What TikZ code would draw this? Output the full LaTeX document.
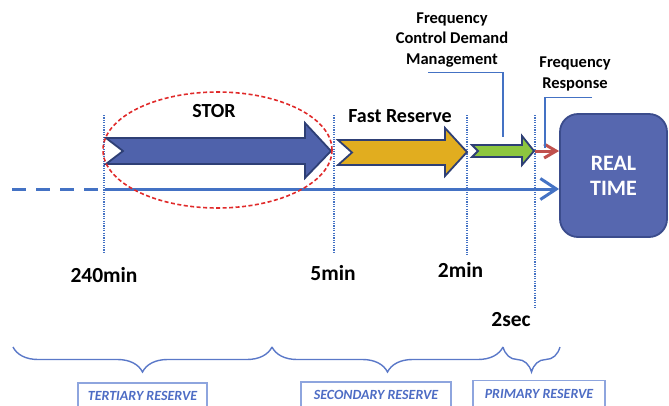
\documentclass[tikz,border=0pt]{standalone}
\usepackage{fontspec}
\setmainfont{Carlito}
\usepackage{tikz}
\usetikzlibrary{shapes.geometric, arrows.meta}
\usetikzlibrary{decorations.pathreplacing}
\definecolor{lineblue}{HTML}{4472C4}
\definecolor{storblue}{HTML}{4F62AB}
\definecolor{fastgold}{HTML}{E1AD1F}
\definecolor{fcdmgreen}{HTML}{8DC63F}
\definecolor{outlinenavy}{HTML}{2E3F75}
\definecolor{frred}{HTML}{C0504D}
\definecolor{rtfill}{HTML}{5667AF}
\definecolor{rtborder}{HTML}{3B4C8C}
\definecolor{ringred}{HTML}{E02A2A}
\definecolor{braceblue}{HTML}{5A78C8}
\definecolor{boxblue}{HTML}{8EA5DE}
\definecolor{textblue}{HTML}{4D6CC4}
\tikzstyle{blockarrow} = [draw=outlinenavy, line width=1.8pt, line join=miter]
\tikzstyle{timeline} = [draw=lineblue, line width=3pt]
\tikzstyle{timetick} = [draw=lineblue, line width=1.4pt, dash pattern=on 1.2pt off 1.2pt]
\tikzstyle{callout} = [draw=lineblue, line width=1.1pt]
\tikzstyle{bracket} = [draw=braceblue, line width=1.4pt, decorate, decoration={brace, mirror, amplitude=25pt}]
\tikzstyle{reservebox} = [draw=boxblue, line width=1.3pt, text=textblue, font=\fontsize{14}{16}\selectfont\bfseries\itshape, minimum height=26pt, inner sep=0pt]
\tikzstyle{timelabel} = [font=\fontsize{21.5}{25}\selectfont\bfseries, anchor=base, inner sep=0pt]
\tikzstyle{biglabel} = [font=\fontsize{20}{23}\selectfont\bfseries, anchor=base, inner sep=0pt]
\tikzstyle{smalllabel} = [font=\fontsize{16.5}{20.5}\selectfont\bfseries, align=center, inner sep=0pt]
\tikzstyle{realtime} = [draw=rtborder, fill=rtfill, line width=1.8pt, rounded corners=18pt, text=white, font=\fontsize{22}{25}\selectfont\bfseries, align=center, minimum width=107pt, minimum height=123pt]

\begin{document}
\begin{tikzpicture}[x=1pt, y=-1pt]
\useasboundingbox (0,0) rectangle (669,405);
\clip (0,0) rectangle (669,405);

%% time ticks
\foreach \tx/\ty in {104/254, 334/252, 467/255, 535/308}
    \draw[timetick] (\tx,115) -- (\tx,\ty);

%% real time
\node[realtime] (realtime) at (613.5,175.5) {REAL\\TIME};

%% timeline
\coordinate (lineStart) at (12,189);
\coordinate (lineMid) at (105,189);
\draw[timeline, dash pattern=on 14pt off 10pt] (lineStart) -- (lineMid);
\draw[timeline, -{Straight Barb[length=16pt, width=21pt]}] (lineMid) -- (realtime.west |- lineMid);

%% block arrows
\draw[blockarrow, fill=storblue] (106,138) -- (305,138) -- (305,123) -- (331,151) -- (305,178)
    -- (305,164) -- (106,164) -- (123,151) -- cycle;
\draw[blockarrow, fill=fastgold] (338,140) -- (445,140) -- (445,128) -- (467,152) -- (445,176)
    -- (445,165) -- (338,165) -- (352,152.5) -- cycle;
\draw[blockarrow, fill=fcdmgreen] (472,145) -- (522,145) -- (522,136) -- (534,151) -- (522,165)
    -- (522,157) -- (472,157) -- (478,151) -- cycle;
\coordinate (frStart) at (535,151);
\draw[draw=frred, line width=3pt, -{Straight Barb[length=12pt, width=14pt]}] (frStart) -- (realtime.west |- frStart);

%% STOR ring
\node[draw=ringred, line width=1.6pt, dash pattern=on 4pt off 2.5pt, ellipse, minimum width=229pt, minimum height=116pt] (storring) at (217.5,150) {};

%% labels
\node[biglabel] (stor) at (214,117) {STOR};
\node[biglabel] (fast) at (400,122) {Fast Reserve};
\node[smalllabel] (fcdm) at (452,40) {Frequency\\Control Demand\\Management};
\node[smalllabel] (frlabel) at (575,74) {Frequency\\Response};
\coordinate (fcdmtip) at (503,137);
\coordinate (frtip) at (545,148);
\draw[callout] ([xshift=-24pt, yshift=-5pt]fcdm.south) -| (fcdmtip);
\draw[callout] ([xshift=17pt, yshift=-6pt]frlabel.south) -| (frtip);

\node[timelabel] (t240) at (104,282) {240min};
\node[timelabel] (t5) at (333,280) {5min};
\node[timelabel] (t2) at (460.5,277) {2min};
\node[timelabel] (t2s) at (511,326) {2sec};

%% reserves
\draw[bracket] (13,347) -- (272,347);
\draw[bracket] (272,347) -- (503,347);
\draw[bracket] (503,347) -- (560,347);
\node[reservebox, minimum width=129pt] (tertiary) at (142.5,396) {TERTIARY RESERVE};
\node[reservebox, minimum width=150pt] (secondary) at (376,395) {SECONDARY RESERVE};
\node[reservebox, minimum width=132pt] (primary) at (539,393.5) {PRIMARY RESERVE};
\end{tikzpicture}
\end{document}
